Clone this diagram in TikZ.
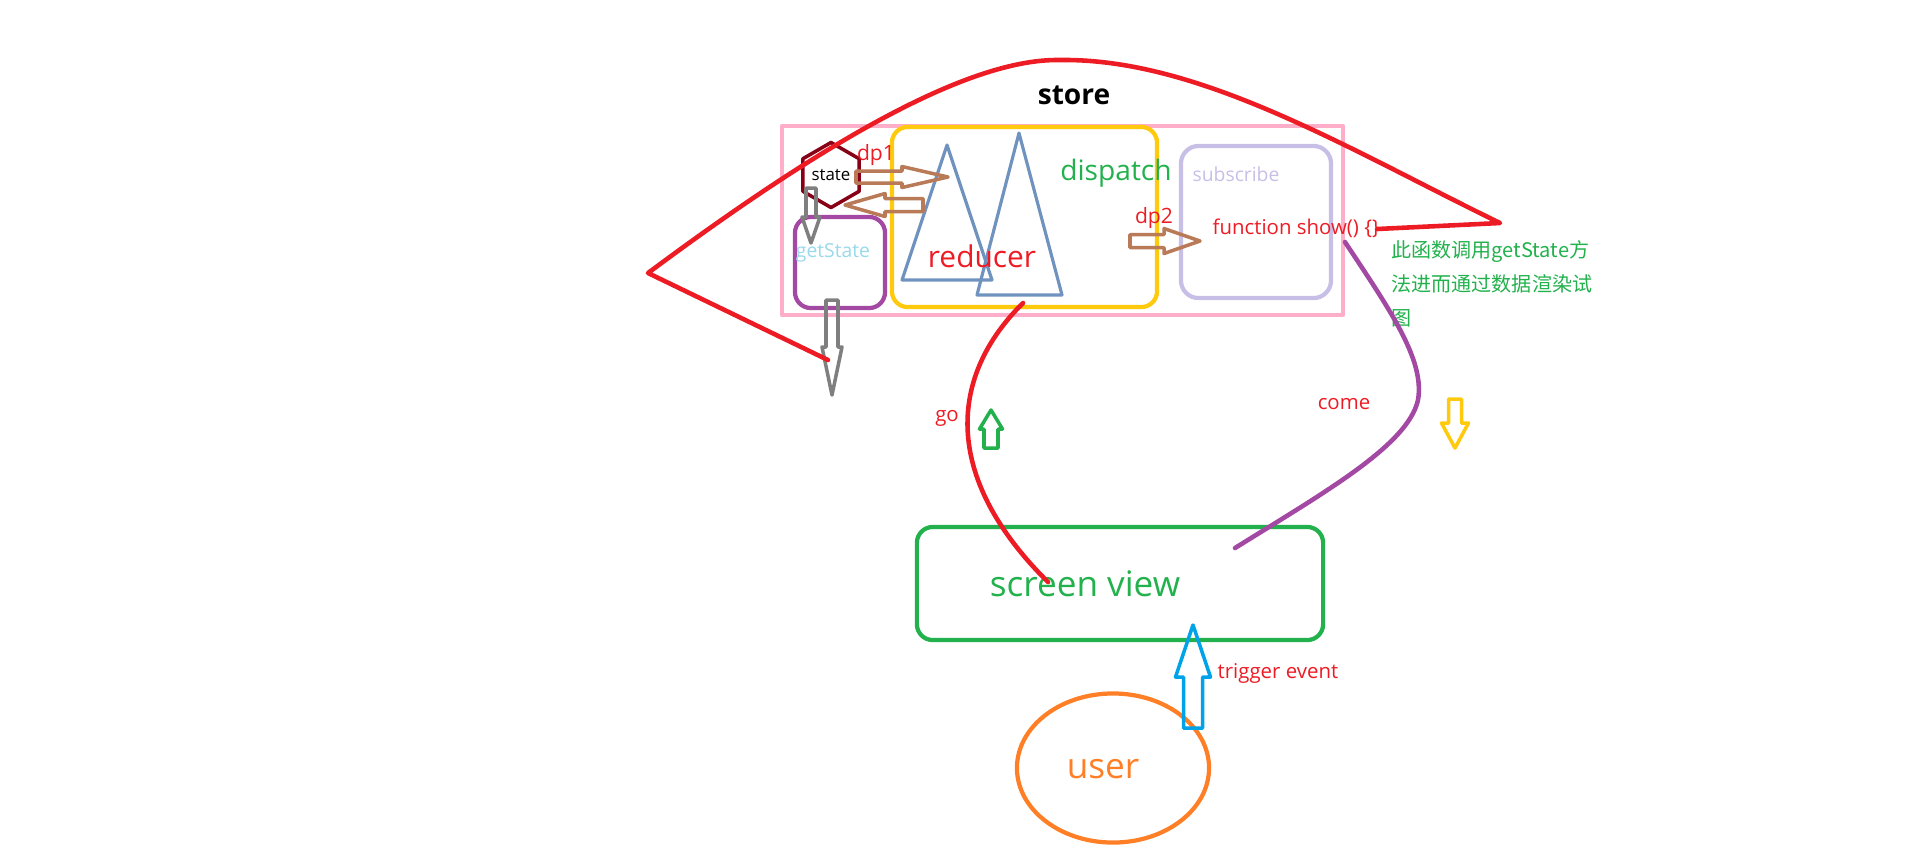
\documentclass[tikz,border=0pt]{standalone}
\usepackage{fontspec}
\setmainfont{Open Sans}
\newfontfamily\cjk{Noto Sans CJK SC}
\usetikzlibrary{shapes.geometric}
\definecolor{pRed}{HTML}{ED1C24}
\definecolor{pPink}{HTML}{FFAEC9}
\definecolor{pYellow}{HTML}{FFC90E}
\definecolor{pLav}{HTML}{C8BFE7}
\definecolor{pPurple}{HTML}{A349A4}
\definecolor{pDarkRed}{HTML}{880015}
\definecolor{pBrown}{HTML}{B97A57}
\definecolor{pGray}{HTML}{7F7F7F}
\definecolor{pSteel}{HTML}{7092BE}
\definecolor{pTurq}{HTML}{99D9EA}
\definecolor{pGreen}{HTML}{22B14C}
\definecolor{pOrange}{HTML}{FF7F27}
\definecolor{pBlue}{HTML}{00A2E8}
% colour, tail, angle, length, head length, shaft half width, head half width
\newcommand{\blockarrow}[7]{\draw[fat,draw=#1,shift={#2},rotate=#3] (0,-#6)--({#4-#5},-#6)--({#4-#5},-#7)--(#4,0)--({#4-#5},#7)--({#4-#5},#6)--(0,#6)--cycle;}
\begin{document}
\begin{tikzpicture}[x=0.01cm, y=-0.01cm, line join=round, line cap=round,
	box/.style={draw, line width=1.2pt, inner sep=0pt},
	txt/.style={inner sep=0pt, font=\fontsize{5.8}{7}\selectfont},
	curve/.style={line width=1.3pt},
	tri/.style={draw=pSteel, line width=0.9pt},
	fat/.style={line width=1pt}]
	\useasboundingbox (0,0) rectangle (1914,856);
	\node[box, draw=pPink, minimum width=5.61cm, minimum height=1.89cm] (store) at (1062.5,220.5) {};
	\node[box, draw=pYellow, rounded corners=4.5pt, minimum width=2.65cm, minimum height=1.8cm] (dispbox) at (1024.5,217) {};
	\node[box, draw=pLav, rounded corners=5pt, minimum width=1.5cm, minimum height=1.52cm] (subbox) at (1256,222) {};
	\node[box, draw=pPurple, rounded corners=4.5pt, minimum width=0.9cm, minimum height=0.91cm] (getbox) at (840,262.5) {};
	\node[box, draw=pGreen, rounded corners=4.5pt, minimum width=4.06cm, minimum height=1.13cm] (screen) at (1120,583.5) {};
	\node[box, draw=pOrange, ellipse, minimum width=1.92cm, minimum height=1.49cm] (user) at (1113,768) {};
	\node[box, draw=pDarkRed, line width=1pt, regular polygon, regular polygon sides=6, shape border rotate=30, minimum size=0.65cm, font=\fontsize{4.8}{6}\selectfont] (state) at (831,175) {state};
	\draw[tri] (947,145)--(992,280)--(902,280)--cycle;
	\draw[tri] (1019,133)--(1062,295)--(977,295)--cycle;
	\node[inner sep=0pt, font=\bfseries\fontsize{8}{10}\selectfont] (storeLbl) at (1074,95) {store};
	\node[txt, text=pRed, font=\fontsize{6}{7}\selectfont] (dpone) at (876,155) {dp1};
	\node[txt, text=pTurq, font=\fontsize{5.5}{7}\selectfont] (getLbl) at (833,253) {getState};
	\node[txt, text=pRed, font=\fontsize{8.5}{10}\selectfont] (reducer) at (982,256) {reducer};
	\node[txt, text=pGreen, font=\fontsize{8}{10}\selectfont] (dispatch) at (1116,173) {dispatch};
	\node[txt, text=pLav, font=\fontsize{5.5}{7}\selectfont] (subLbl) at (1236,174) {subscribe};
	\node[txt, text=pRed, font=\fontsize{6}{7}\selectfont] (dptwo) at (1154,218) {dp2};
	\node[txt, text=pRed, anchor=west] (show) at (1212,228) {function show() \{\}};
	\node[txt, text=pGreen, anchor=north west, align=left, font=\cjk\fontsize{5.7}{9.6}\selectfont] (note) at (1391,240) {此函数调用getState方\\法进而通过数据渲染试\\图};
	\node[txt, text=pRed] (come) at (1344,404) {come};
	\node[txt, text=pRed] (go) at (947,418) {go};
	\node[txt, text=pGreen, font=\fontsize{10}{12}\selectfont] (screenLbl) at (1085,584) {screen view};
	\node[txt, text=pOrange, font=\fontsize{10}{12}\selectfont] (userLbl) at (1103,769) {user};
	\node[txt, text=pRed, anchor=west] (trigger) at (1217,673) {trigger event};
	\blockarrow{pBrown}{(856,177)}{0}{92}{46}{6}{10.5}
	\blockarrow{pBrown}{(923,205)}{180}{78}{40}{6.5}{11.5}
	\blockarrow{pBrown}{(1130,241)}{0}{70}{36}{6.5}{12.5}
	\blockarrow{pGray}{(811,188)}{-90}{55}{26}{5}{9}
	\blockarrow{pGray}{(832,300)}{-90}{95}{48}{6}{10}
	\blockarrow{pGreen}{(991,448)}{90}{38}{19}{7}{11.5}
	\blockarrow{pYellow}{(1455,399)}{-90}{49}{25}{6.5}{13.5}
	\blockarrow{pBlue}{(1193,728)}{90}{103}{52}{9.5}{17.5}
	\coordinate (fnEnd) at (1377,229);
	\coordinate (rTip) at (1500,223);
	\coordinate (peak) at (1060,60);
	\coordinate (lTip) at (648,273);
	\coordinate (lEnd) at (828,360);
	\draw[curve, pRed] (fnEnd)--(rTip) .. controls (1350,150) and (1200,58) .. (peak) .. controls (960,58) and (800,160) .. (lTip)--(lEnd);
	\coordinate (goS) at (1023,303);
	\coordinate (goE) at (1048,582);
	\draw[curve, pRed] (goS) .. controls (950,375) and (940,475) .. (goE);
	\coordinate (comeS) at (1345,242);
	\coordinate (comeM) at (1418,400);
	\coordinate (comeE) at (1235,548);
	\draw[curve, pPurple] (comeS) .. controls (1390,310) and (1425,360) .. (comeM) .. controls (1408,445) and (1325,492) .. (comeE);
\end{tikzpicture}
\end{document}
